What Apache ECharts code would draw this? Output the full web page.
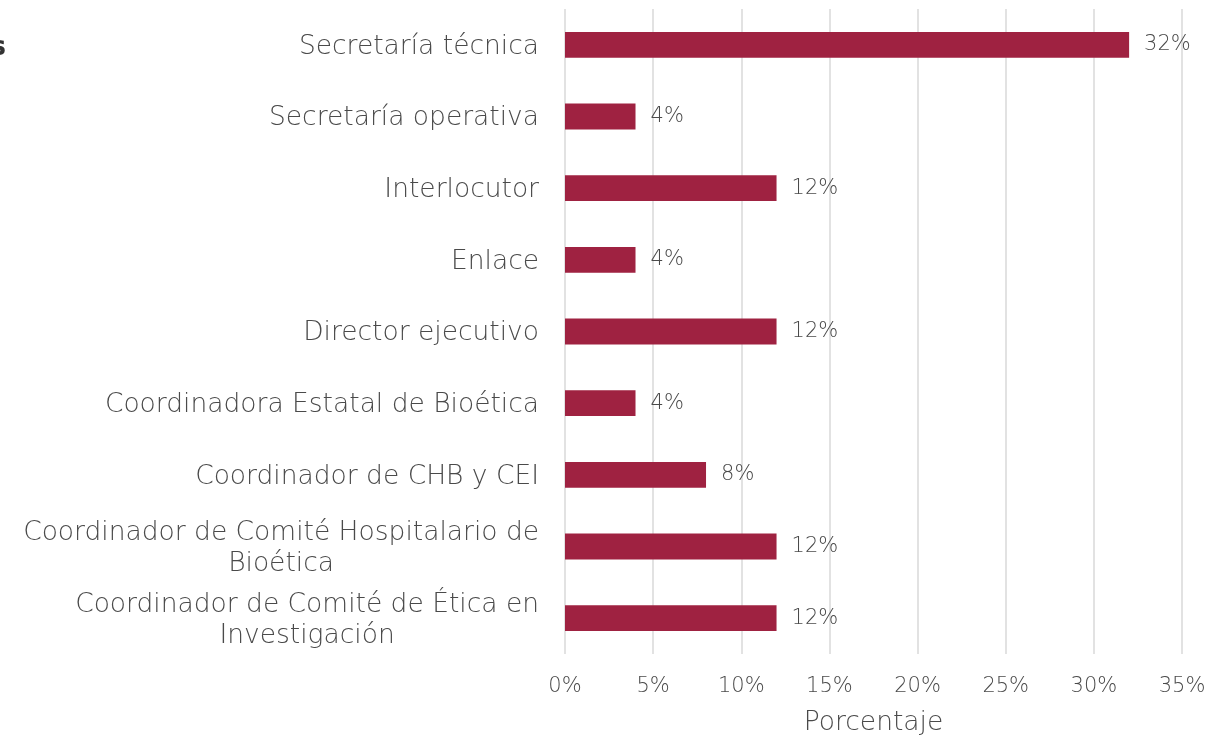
<!DOCTYPE html>
<html><head><meta charset="utf-8">
<script src="https://cdn.jsdelivr.net/npm/echarts@6/dist/echarts.min.js"></script>
<style>html,body{margin:0;padding:0;background:#fff}#c{width:1229px;height:738px}</style>
</head><body><div id="c"></div>
<script>
const categories = [
  "Secretaría técnica",
  "Secretaría operativa",
  "Interlocutor",
  "Enlace",
  "Director ejecutivo",
  "Coordinadora Estatal de Bioética",
  "Coordinador de CHB y CEI",
  "Coordinador de Comité Hospitalario de\nBioética",
  "Coordinador de Comité de Ética en\nInvestigación"
];
const values = [32, 4, 12, 4, 12, 4, 8, 12, 12];
const xTicks = [0, 5, 10, 15, 20, 25, 30, 35];
const axisTitle = "Porcentaje";
const clippedTitle = "Cargos";

const FONT = "DejaVu Sans";
const TXT = '#4a4a4a';
const W = 300;
const chart = echarts.init(document.getElementById('c'));
chart.setOption({
  backgroundColor: '#fff',
  animation: false,
  graphic: [{
    type: 'text', right: 1229 - 6, top: 35,
    style: { text: clippedTitle, fill: '#333', font: '600 26px "DejaVu Sans"' }
  }],
  grid: { left: 565, right: 1229 - 1182, top: 9, bottom: 738 - 654, containLabel: false, outerBoundsMode: 'none' },
  xAxis: {
    type: 'value', min: xTicks[0], max: xTicks[xTicks.length - 1], interval: 5,
    name: axisTitle, nameLocation: 'middle', nameGap: 56,
    nameTextStyle: { color: TXT, fontSize: 26.5, fontFamily: FONT, fontWeight: W },
    axisLine: { show: false }, axisTick: { show: false },
    axisLabel: { color: TXT, fontSize: 21, fontFamily: FONT, fontWeight: W, margin: 22, formatter: v => v + '%' },
    splitLine: { show: true, lineStyle: { color: '#d9d9d9', width: 1.5 } }
  },
  yAxis: {
    type: 'category', data: categories, inverse: true,
    axisLine: { show: false }, axisTick: { show: false },
    axisLabel: {
      color: TXT, fontSize: 26.5, fontFamily: FONT, fontWeight: W, margin: 26,
      formatter: v => v.split('\n').map(s => '{a|' + s + '}').join('\n'),
      rich: { a: { align: 'center', fontSize: 26.5, fontFamily: FONT, fontWeight: W, color: TXT, lineHeight: 31, padding: [4, 0, 0, 0] } }
    }
  },
  series: [{
    type: 'bar', data: values, barWidth: '36%',
    itemStyle: { color: '#9F2241' },
    label: { show: true, position: 'right', distance: 15, color: TXT, fontSize: 21, fontFamily: FONT, fontWeight: W, padding: [8, 0, 0, 0], formatter: p => p.value + '%' }
  }]
});
</script></body></html>
